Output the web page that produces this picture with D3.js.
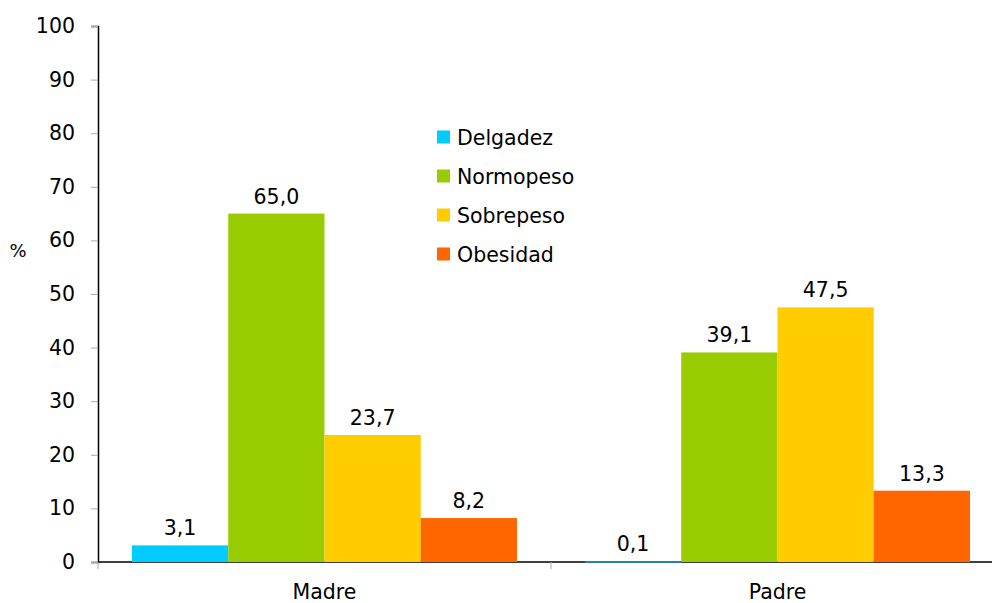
<!DOCTYPE html>
<html><head><meta charset="utf-8">
<script src="https://cdn.jsdelivr.net/npm/d3@7"></script>
<style>body{margin:0;background:#fff}svg{display:block}text{font-family:"DejaVu Sans",sans-serif;fill:#000}</style>
</head><body>
<svg id="c" width="992" height="603"></svg>
<script>
const categories = ["Madre", "Padre"];
const series = ["Delgadez", "Normopeso", "Sobrepeso", "Obesidad"];
const delgadez = [3.1, 0.1];
const normopeso = [65.0, 39.1];
const sobrepeso = [23.7, 47.5];
const obesidad = [8.2, 13.3];
const yTicks = [0,10,20,30,40,50,60,70,80,90,100];
const colors = ["#00CCFF", "#99CC00", "#FFCC00", "#FF6600"];

const values = [delgadez, normopeso, sobrepeso, obesidad];
const svg = d3.select("#c");
const mLeft = 98, mRight = 1004, mTop = 26, mBottom = 562;
const fs = "20.5px";
const y = d3.scaleLinear().domain([0,100]).range([mBottom, mTop]);
const x0 = d3.scaleBand().domain(categories).range([mLeft, mRight]);
const x1 = d3.scaleBand().domain(series).range([34, x0.bandwidth()-34]);

// y axis
const yAxis = svg.append("g").attr("transform", `translate(${mLeft},0)`)
  .call(d3.axisLeft(y).tickValues(yTicks).tickSize(7).tickPadding(16));
yAxis.select(".domain").attr("stroke", "#000").attr("stroke-width", 1.5);
yAxis.selectAll(".tick line").attr("stroke", "#aaa");
yAxis.selectAll(".tick text").style("font-size", fs).attr("fill", "#000");

// x axis
const xAxis = svg.append("g").attr("transform", `translate(0,${mBottom})`)
  .call(d3.axisBottom(x0).tickSize(0).tickPadding(22));
xAxis.select(".domain").remove();
xAxis.selectAll(".tick text").style("font-size", fs).attr("fill", "#000");
svg.append("line").attr("x1", mLeft).attr("x2", 992).attr("y1", mBottom).attr("y2", mBottom)
  .attr("stroke", "#000").attr("stroke-width", 1.5);
[mLeft, x0(categories[1])].forEach(v => {
  svg.append("line").attr("x1", v).attr("x2", v).attr("y1", mBottom).attr("y2", mBottom+7).attr("stroke", "#aaa");
});

// bars
series.forEach((s, i) => {
  const g = svg.append("g");
  categories.forEach((c, j) => {
    const v = values[i][j];
    const bx = x0(c) + x1(s);
    g.append("rect").attr("x", bx).attr("width", x1.bandwidth())
      .attr("y", y(v)).attr("height", Math.max(mBottom - y(v), 1))
      .attr("fill", colors[i]);
    g.append("text").attr("x", bx + x1.bandwidth()/2).attr("y", y(v) - 10)
      .attr("text-anchor", "middle").style("font-size", fs)
      .text(v.toFixed(1).replace(".", ","));
  });
});

svg.append("text").attr("x", 18).attr("y", 257).attr("text-anchor", "middle").style("font-size", "18px").text("%");

series.forEach((s, i) => {
  const ly = 137 + i * 39;
  svg.append("rect").attr("x", 437).attr("y", ly - 6.5).attr("width", 13).attr("height", 13).attr("fill", colors[i]);
  svg.append("text").attr("x", 457).attr("y", ly + 7.5).style("font-size", fs).text(s);
});
</script>
</body></html>
